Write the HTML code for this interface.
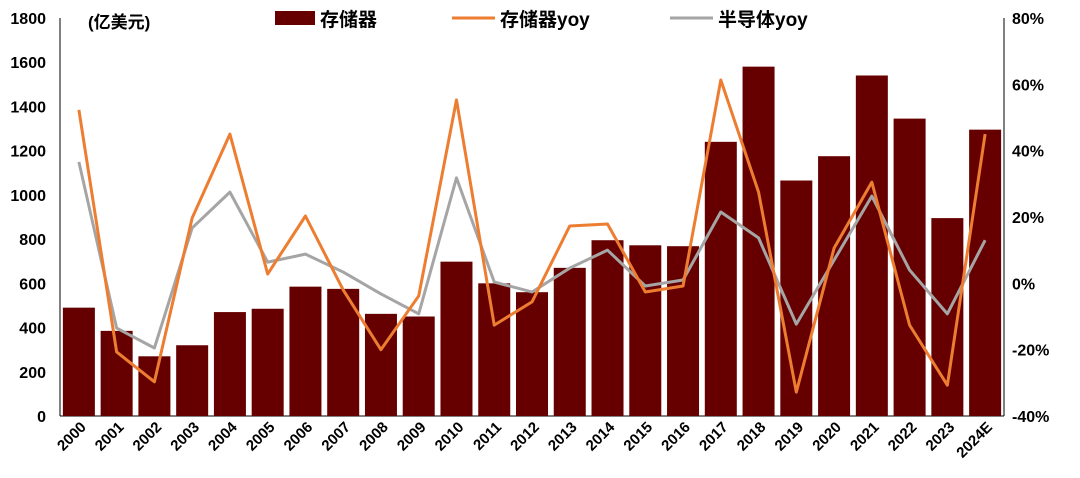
<!DOCTYPE html>
<html><head><meta charset="utf-8"><style>
body{margin:0;background:#fff;}
svg{display:block;font-family:"Liberation Sans","Noto Sans CJK SC",sans-serif;font-weight:bold;}
</style></head><body>
<svg id="c" width="1080" height="478"></svg>
<script>
const categories=["2000","2001","2002","2003","2004","2005","2006","2007","2008","2009","2010","2011","2012","2013","2014","2015","2016","2017","2018","2019","2020","2021","2022","2023","2024E"];
const memorySales=[490,385,270,320,470,485,585,575,462,450,698,600,560,670,795,772,768,1240,1580,1065,1175,1540,1345,895,1295];
const memoryYoy=[52.3,-20.7,-29.7,19.7,45,2.8,20.3,-2,-20,-3.8,55.3,-12.6,-5.6,17.3,17.9,-2.6,-0.8,61.3,27.5,-32.8,10.6,30.5,-12.6,-30.7,45];
const semiYoy=[36.6,-13.5,-19.5,16.7,27.5,6.4,8.8,3.4,-3.2,-9.2,31.8,0.4,-2.6,4.6,10,-0.8,1,21.5,13.7,-12.3,7,26.3,4,-9.2,13];
const leftTicks=[0,200,400,600,800,1000,1200,1400,1600,1800];
const rightTicks=[-40,-20,0,20,40,60,80];
const svg=document.getElementById('c');const NS='http://www.w3.org/2000/svg';
function mk(t,a,p){const e=document.createElementNS(NS,t);for(const k in a)e.setAttribute(k,a[k]);(p||svg).appendChild(e);return e;}
const X0=60,X1=1004,Y0=416,Y1=18;
const step=(X1-X0)/categories.length;
const xc=i=>X0+step*(i+0.5);
const yL=v=>Y0-(v-0)/1800*(Y0-Y1);
const yR=v=>Y0-(v+40)/120*(Y0-Y1);
leftTicks.forEach(v=>{const t=mk('text',{x:46,y:yL(v)+6,'text-anchor':'end','font-size':16,fill:'#000'});t.textContent=v;

});
rightTicks.forEach(v=>{const t=mk('text',{x:1012,y:yR(v)+6,'font-size':16,fill:'#000'});t.textContent=v+'%';

});
mk('line',{x1:X0,y1:Y1,x2:X0,y2:Y0,stroke:'#000'});
mk('line',{x1:X1,y1:Y1,x2:X1,y2:Y0,stroke:'#000'});
mk('line',{x1:X0,y1:Y0,x2:X1,y2:Y0,stroke:'#000'});
memorySales.forEach((v,i)=>{const r=mk('rect',{x:xc(i)-16,y:yL(v),width:32,height:Y0-yL(v),fill:'#660000'});

});
function line(arr,col,name){const p=mk('polyline',{points:arr.map((v,i)=>xc(i)+','+yR(v)).join(' '),fill:'none',stroke:col,'stroke-width':3,'stroke-linejoin':'round'});

}
line(semiYoy,'#A5A5A5','semiconductor-yoy-line');
line(memoryYoy,'#ED7D31','memory-yoy-line');
categories.forEach((c,i)=>{const t=mk('text',{x:xc(i)+8,y:428,'text-anchor':'end','font-size':15,fill:'#000',transform:`rotate(-45 ${xc(i)+8} 428)`});t.textContent=c;

});
const u=mk('text',{x:88,y:28,'font-size':17,fill:'#000'});u.textContent='(亿美元)';


const lg=mk('g',{});


mk('rect',{x:275,y:11,width:40,height:14,fill:'#660000'},lg);
let t=mk('text',{x:320,y:26,'font-size':19,fill:'#000'},lg);t.textContent='存储器';
mk('line',{x1:452,y1:18,x2:495,y2:18,stroke:'#ED7D31','stroke-width':3},lg);
t=mk('text',{x:500,y:26,'font-size':19,fill:'#000'},lg);t.textContent='存储器yoy';
mk('line',{x1:670,y1:18,x2:713,y2:18,stroke:'#A5A5A5','stroke-width':3},lg);
t=mk('text',{x:718,y:26,'font-size':19,fill:'#000'},lg);t.textContent='半导体yoy';
</script>
</body></html>
